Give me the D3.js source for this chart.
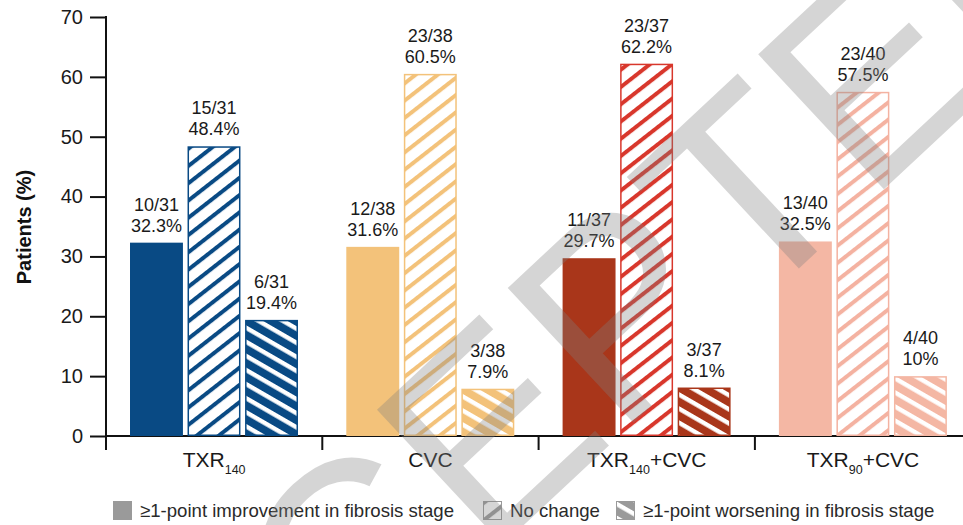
<!DOCTYPE html>
<html>
<head>
<meta charset="utf-8">
<script src="https://cdn.jsdelivr.net/npm/d3@7"></script>
<style>
  html, body { margin: 0; padding: 0; background: #fff; }
  svg { display: block; font-family: "Liberation Sans", Arial, Helvetica, sans-serif; }
</style>
</head>
<body>
<svg id="chart" width="963" height="525"></svg>
<script>
// Fibrosis stage change by treatment arm
const categories = ["TXR140", "CVC", "TXR140+CVC", "TXR90+CVC"];
// label pieces: main text, subscript, trailing text
const categoryLabelParts = [
  ["TXR", "140", ""],
  ["CVC", "", ""],
  ["TXR", "140", "+CVC"],
  ["TXR", "90", "+CVC"]
];
const seriesKeys = ["improvement", "noChange", "worsening"];
const seriesNames = [
  "\u22651-point improvement in fibrosis stage",
  "No change",
  "\u22651-point worsening in fibrosis stage"
];
const improvement = [32.3, 31.6, 29.7, 32.5];
const noChange = [48.4, 60.5, 62.2, 57.5];
const worsening = [19.4, 7.9, 8.1, 10];
const improvementN = ["10/31", "12/38", "11/37", "13/40"];
const noChangeN = ["15/31", "23/38", "23/37", "23/40"];
const worseningN = ["6/31", "3/38", "3/37", "4/40"];
const yTicks = [0, 10, 20, 30, 40, 50, 60, 70];

const solidColors = ["#094a84", "#f3c27a", "#a9361a", "#f4b7a4"];
const stripeColors = ["#094a84", "#f3c27a", "#d8372c", "#f4b2a1"];

const svg = d3.select("#chart");
const defs = svg.append("defs");

const plot = { left: 106, top: 17, bottom: 436, step: 216.3 };

const x = d3.scaleBand()
  .domain(categories)
  .range([plot.left, plot.left + plot.step * categories.length])
  .paddingInner(0).paddingOuter(0);

const xs = d3.scaleBand()
  .domain(seriesKeys)
  .range([24, 192])
  .paddingInner(0.08);

const y = d3.scaleLinear().domain([0, 70]).range([plot.bottom, plot.top]);

// hatch patterns: "/" stripes on white and white "\" stripes on colour
function noChangePattern(id, color) {
  const p = defs.append("pattern")
    .attr("id", id).attr("patternUnits", "userSpaceOnUse")
    .attr("width", 20).attr("height", 13.6)
    .attr("patternTransform", "rotate(-38)");
  p.append("rect").attr("width", 20).attr("height", 13.6).attr("fill", "#fff");
  p.append("rect").attr("width", 20).attr("height", 4).attr("fill", color);
}
function worseningPattern(id, color) {
  const p = defs.append("pattern")
    .attr("id", id).attr("patternUnits", "userSpaceOnUse")
    .attr("width", 20).attr("height", 12.2)
    .attr("patternTransform", "rotate(30)");
  p.append("rect").attr("width", 20).attr("height", 12.2).attr("fill", color);
  p.append("rect").attr("width", 20).attr("height", 4.4).attr("fill", "#fff");
}
categories.forEach((c, i) => {
  noChangePattern("nc-" + i, stripeColors[i]);
  worseningPattern("wo-" + i, solidColors[i]);
});
noChangePattern("nc-legend", "#9a9a9a");
worseningPattern("wo-legend", "#9a9a9a");

// y axis
const yAxis = d3.axisLeft(y).tickValues(yTicks).tickSize(16).tickPadding(7).tickSizeOuter(0);
const gy = svg.append("g").attr("transform", `translate(${plot.left},0)`).call(yAxis);
gy.select(".domain").attr("stroke", "#111").attr("stroke-width", 2)
  .attr("d", `M0,${plot.top - 1}V${plot.bottom + 1}`);
gy.selectAll(".tick line").attr("stroke", "#111").attr("stroke-width", 2);
gy.selectAll(".tick text").attr("font-size", 20).attr("fill", "#1a1a1a")
  .attr("font-family", "'Liberation Sans', Arial, sans-serif");

// x axis with boundary ticks between groups
const gx = svg.append("g");
gx.append("line")
  .attr("x1", plot.left - 1).attr("x2", 963)
  .attr("y1", plot.bottom).attr("y2", plot.bottom)
  .attr("stroke", "#111").attr("stroke-width", 2);
gx.selectAll("line.sep").data(categories).join("line")
  .attr("class", "sep")
  .attr("x1", d => x(d)).attr("x2", d => x(d))
  .attr("y1", plot.bottom).attr("y2", plot.bottom + 14)
  .attr("stroke", "#111").attr("stroke-width", 2);

const catLabels = gx.selectAll("text.cat").data(categories).join("text")
  .attr("class", "cat")
  .attr("x", d => x(d) + x.bandwidth() / 2)
  .attr("y", 467)
  .attr("text-anchor", "middle")
  .attr("font-size", 21)
  .attr("fill", "#1a1a1a");
catLabels.each(function (d, i) {
  const parts = categoryLabelParts[i];
  const t = d3.select(this);
  t.append("tspan").text(parts[0]);
  if (parts[1]) t.append("tspan").attr("font-size", 12.5).attr("dy", 7).text(parts[1]);
  if (parts[2]) t.append("tspan").attr("dy", parts[1] ? -7 : 0).text(parts[2]);
});

// y axis title
svg.append("text")
  .attr("transform", "translate(31,227) rotate(-90)")
  .attr("text-anchor", "middle")
  .attr("font-size", 20).attr("font-weight", "bold").attr("fill", "#111")
  .text("Patients (%)");

// bars
const seriesValues = { improvement, noChange, worsening };
const seriesCounts = { improvement: improvementN, noChange: noChangeN, worsening: worseningN };

const rows = [];
categories.forEach((c, i) => {
  seriesKeys.forEach(k => rows.push({ cat: c, i, key: k, value: seriesValues[k][i], n: seriesCounts[k][i] }));
});

function barFill(d) {
  if (d.key === "improvement") return solidColors[d.i];
  if (d.key === "noChange") return `url(#nc-${d.i})`;
  return `url(#wo-${d.i})`;
}
function barStroke(d) {
  if (d.key === "noChange") return stripeColors[d.i];
  return solidColors[d.i];
}

const bars = svg.append("g");
bars.selectAll("rect").data(rows).join("rect")
  .attr("x", d => x(d.cat) + xs(d.key) + 0.75)
  .attr("y", d => y(d.value) + 0.75)
  .attr("width", xs.bandwidth() - 1.5)
  .attr("height", d => y(0) - y(d.value) - 1.5)
  .attr("fill", barFill)
  .attr("stroke", barStroke)
  .attr("stroke-width", 1.5);

const labels = svg.append("g").attr("font-size", 18).attr("fill", "#1a1a1a").attr("text-anchor", "middle");
labels.selectAll("text.n").data(rows).join("text")
  .attr("class", "n")
  .attr("x", d => x(d.cat) + xs(d.key) + xs.bandwidth() / 2)
  .attr("y", d => y(d.value) - 32)
  .text(d => d.n);
labels.selectAll("text.pct").data(rows).join("text")
  .attr("class", "pct")
  .attr("x", d => x(d.cat) + xs(d.key) + xs.bandwidth() / 2)
  .attr("y", d => y(d.value) - 11)
  .text(d => d.value + "%");

// legend
const legendX = [113, 483, 616];
const legendFills = ["#9a9a9a", "url(#nc-legend)", "url(#wo-legend)"];
const legend = svg.append("g");
const li = legend.selectAll("g").data(seriesNames).join("g")
  .attr("transform", (d, i) => `translate(${legendX[i]},501)`);
li.append("rect")
  .attr("x", 0.5).attr("y", 0.5).attr("width", 18).attr("height", 18)
  .attr("fill", (d, i) => legendFills[i])
  .attr("stroke", "#9a9a9a").attr("stroke-width", 1);
li.append("text")
  .attr("x", 27).attr("y", 16)
  .attr("font-size", 18.6).attr("fill", "#2a2a2a")
  .text(d => d);

// diagonal watermark, anchored so the foot of the "T" stem sits at (808, 260)
const wmAngle = -43;
const wm = svg.append("g").attr("pointer-events", "none");
const wmText = wm.append("text")
  .attr("font-size", 268)
  .attr("font-family", "'Liberation Sans', Arial, sans-serif")
  .attr("fill", "rgb(128,128,128)")
  .attr("fill-opacity", 0.33)
  .text("ACCEPTED");
const wmNode = wmText.node();
const tIndex = 5;
const stemX = wmNode.getSubStringLength(0, tIndex) + wmNode.getSubStringLength(tIndex, 1) / 2;
const rad = wmAngle * Math.PI / 180;
const tx = 808 - stemX * Math.cos(rad);
const ty = 260 - stemX * Math.sin(rad);
wm.attr("transform", `translate(${tx},${ty}) rotate(${wmAngle})`);
</script>
</body>
</html>
